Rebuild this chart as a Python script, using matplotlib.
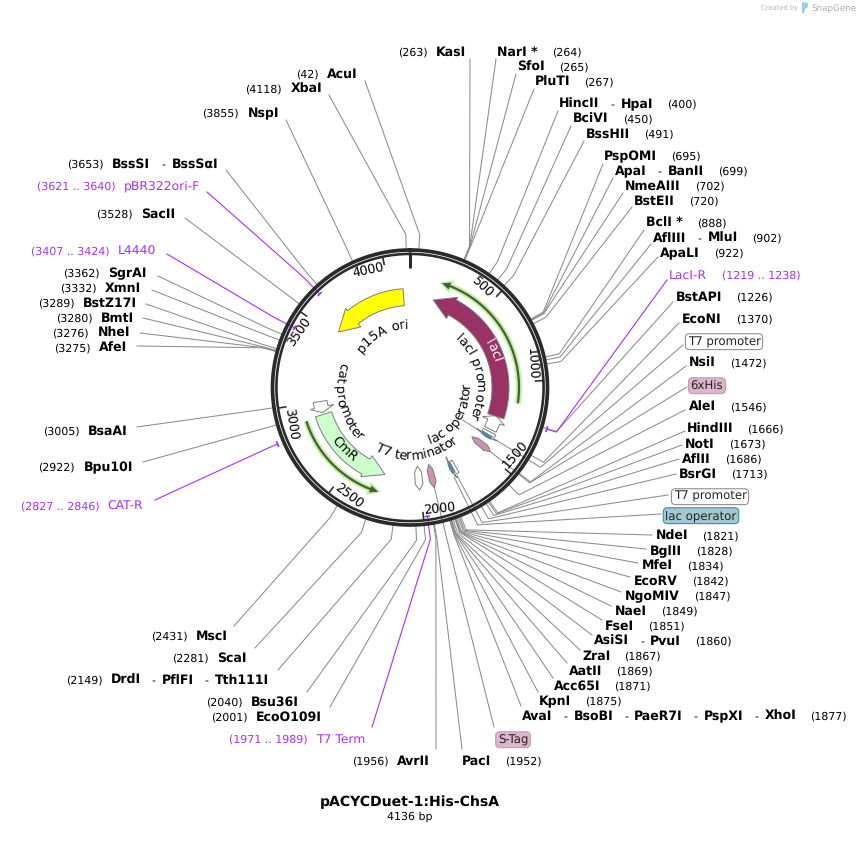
import matplotlib
matplotlib.use("Agg")
import matplotlib.pyplot as plt
import numpy as np
from matplotlib.font_manager import FontProperties
from matplotlib.patches import Polygon
from matplotlib.textpath import text_to_path

plt.rcParams["text.hinting"] = "no_hinting"

PLASMID_NAME = "pACYCDuet-1:His-ChsA"
PLASMID_LEN = 4136
TICK_BP = [500, 1000, 1500, 2000, 2500, 3000, 3500, 4000]

# enzyme sites
site_names = [
  "KasI", "NarI *", "SfoI", "PluTI", "HincII - HpaI", "BciVI", "BssHII",
  "PspOMI", "ApaI - BanII", "NmeAIII", "BstEII", "BclI *", "AflIII - MluI", "ApaLI",
  "BstAPI", "EcoNI", "NsiI", "AleI", "HindIII", "NotI", "AflII", "BsrGI",
  "NdeI", "BglII", "MfeI", "EcoRV", "NgoMIV", "NaeI", "FseI", "AsiSI - PvuI",
  "ZraI", "AatII", "Acc65I", "KpnI", "AvaI - BsoBI - PaeR7I - PspXI - XhoI",
  "PacI", "AvrII", "EcoO109I", "Bsu36I", "DrdI - PflFI - Tth111I", "ScaI", "MscI",
  "Bpu10I", "BsaAI", "AfeI", "NheI", "BmtI", "BstZ17I", "XmnI", "SgrAI",
  "SacII", "BssSI - BssSαI", "NspI", "XbaI", "AcuI",
]
site_bp = [
  263, 264, 265, 267, 400, 450, 491,
  695, 699, 702, 720, 888, 902, 922,
  1226, 1370, 1472, 1546, 1666, 1673, 1686, 1713,
  1821, 1828, 1834, 1842, 1847, 1849, 1851, 1860,
  1867, 1869, 1871, 1875, 1877,
  1952, 1956, 2001, 2040, 2149, 2281, 2431,
  2922, 3005, 3275, 3276, 3280, 3289, 3332, 3362,
  3528, 3653, 3855, 4118, 42,
]
# label layout in pixels: text x (name start on the right side, name end on the left side), centre y, leader end
site_side = ["L"] + ["R"] * 35 + ["L"] * 19
site_x = [
  466, 497, 517, 535, 559, 573, 586,
  604, 615, 625, 634, 646, 653, 660,
  676, 682, 689, 689, 687, 685, 682, 679,
  656, 650, 642, 634, 625, 615, 605, 594,
  582, 569, 554, 539, 522,
  462, 430, 322, 299, 269, 247, 228,
  133, 128, 127, 130, 134, 137, 141, 147,
  175, 218, 279, 322, 358,
]
site_y = [
  52, 52, 67, 82, 104, 119, 134,
  156, 171, 186, 201, 223, 238, 253,
  297, 319, 363, 407, 429, 444, 459, 474,
  536, 551, 566, 581, 596, 611, 626, 641,
  656, 671, 686, 701, 716,
  761, 761, 717, 702, 680, 658, 636,
  467, 431, 348, 333, 318, 303, 288, 273,
  214, 164, 113, 89, 74,
]
site_end_x = [
  470, 496, 516, 534, 558, 571, 584,
  603, 613, 623, 632, 644, 651, 658,
  673, 679, 686, 685, 685, 682, 679, 676,
  652, 646, 638, 630, 621, 611, 602, 592,
  580, 567, 553, 538, 521,
  462, 436, 330, 307, 278, 255, 234,
  143, 137, 137, 140, 143, 146, 152, 158,
  185, 226, 286, 329, 365,
]
site_end_y = [
  59, 59, 74, 89, 111, 126, 141,
  164, 178, 193, 207, 230, 244, 257,
  302, 323, 366, 410, 431, 445, 459, 474,
  535, 549, 563, 577, 592, 606, 620, 635,
  650, 663, 678, 692, 706,
  749, 749, 707, 692, 670, 648, 626,
  462, 427, 346, 333, 318, 304, 290, 276,
  218, 170, 120, 95, 81,
]

# primers
primer_names = ["LacI-R", "T7 Term", "CAT-R", "L4440", "pBR322ori-F"]
primer_start = [1219, 1971, 2827, 3407, 3621]
primer_stop = [1238, 1989, 2846, 3424, 3640]
primer_side = ["R", "L", "L", "L", "L"]
primer_x = [669, 365, 143, 156, 200]
primer_y = [275, 739, 506, 251, 186]
primer_end_x = [667, 372, 155, 167, 207]
primer_end_y = [280, 727, 500, 254, 192]
primer_radius = [143, 130, 144, 130, 130]

# boxed feature labels
box_names = ["T7 promoter", "6xHis", "T7 promoter", "lac operator", "S-Tag"]
box_bp = [1395, 1477, 1745, 1767, 1911]
box_x = [724, 707, 710, 701, 513]
box_y = [341, 385, 496, 515, 739]
box_end_x = [683, 687, 668, 661, 494]
box_end_y = [345, 387, 495, 514, 727]
box_face = ["white", "#dcb6ca", "white", "#a3c8d2", "#dcb6ca"]
box_edge = ["#909090", "#c79ab3", "#909090", "#3a8ea3", "#c79ab3"]

CX, CY = 410, 387.5
PX = 0.72
GREY = "#8c8c8c"
PURPLE = "#a92ffa"
DARK = "#2a2a2a"
RING_TOP = 20
BOLD_PX = 12.5


def bp2deg(bp):
  return np.asarray(bp, dtype=float) / PLASMID_LEN * 360.0


def pol(deg, r):
  a = np.radians(deg)
  return CX + r * np.sin(a), CY - r * np.cos(a)


def text_w(s, weight, px):
  fp = FontProperties(family="DejaVu Sans", weight=weight, size=px * PX)
  w, _, _ = text_to_path.get_text_width_height_descent(s, fp, False)
  return w / PX


def put(ax, x, y, s, weight="normal", px=11, color="black", ha="left"):
  ax.text(x, y + 4, s, fontsize=px * PX, fontweight=weight, color=color, ha=ha, va="baseline")


def name_width(parts):
  total = 0
  for i, part in enumerate(parts):
    total += text_w(part, "bold", BOLD_PX)
    if i < len(parts) - 1:
      total += 21
  return total


def draw_site_label(ax, name, num, x, y, side):
  parts = name.split(" - ")
  nw = name_width(parts)
  start = x if side == "R" else x - nw
  cur = start
  for i, part in enumerate(parts):
    put(ax, cur, y, part, weight="bold", px=BOLD_PX)
    cur += text_w(part, "bold", BOLD_PX)
    if i < len(parts) - 1:
      put(ax, cur + 11, y, "-", px=11)
      cur += 21
  if side == "R":
    put(ax, start + nw + 14, y, "(%d)" % num)
  else:
    put(ax, start - 8.5, y, "(%d)" % num, ha="right")


def leader(ax, deg, r0, end_x, end_y, color=GREY, lw=0.75, r_elbow=153):
  ex, ey = pol(deg, r_elbow)
  sx, sy = pol(deg, r0)
  ax.plot([sx, ex, end_x], [sy, ey, end_y], color=color, lw=lw, zorder=3, solid_joinstyle="round")


def arrow(ax, bp_tail, bp_tip, face, head_deg=13, r_in=82, r_out=99, head_in=78, head_out=102, zorder=6):
  a0, a1 = bp2deg(bp_tail), bp2deg(bp_tip)
  sign = 1 if a1 > a0 else -1
  base = a1 - sign * head_deg
  arc = np.linspace(a0, base, 80)
  xo, yo = pol(arc, r_out)
  xi, yi = pol(arc[::-1], r_in)
  hox, hoy = pol(base, head_out)
  hix, hiy = pol(base, head_in)
  tx, ty = pol(a1, (r_in + r_out) / 2)
  xs = np.r_[xo, hox, tx, hix, xi]
  ys = np.r_[yo, hoy, ty, hiy, yi]
  ax.add_patch(Polygon(np.c_[xs, ys], closed=True, facecolor=face, edgecolor="#7d7d7d", lw=0.7, zorder=zorder))


def hexagon(ax, bp0, bp1, face):
  a0, a1 = bp2deg(bp0), bp2deg(bp1)
  mid = (a0 + a1) / 2
  angs = [mid, a1, a1, mid, a0, a0]
  rads = [79, 85, 97, 103, 97, 85]
  xs, ys = pol(np.array(angs), np.array(rads))
  ax.add_patch(Polygon(np.c_[xs, ys], closed=True, facecolor=face, edgecolor="#7d7d7d", lw=0.7, zorder=6))


def orf(ax, bp_from, bp_to):
  a0, a1 = bp2deg(bp_from), bp2deg(bp_to)
  sign = 1 if a1 > a0 else -1
  arc = np.linspace(a0, a1 - sign * 2.5, 80)
  x, y = pol(arc, 109)
  for col, lw, hw, extra in [("#bdf29a", 6 * PX, 7, 1.0), ("#4b5a40", 2.2 * PX, 3.6, 0.0)]:
    ax.plot(x, y, color=col, lw=lw, solid_capstyle="butt", zorder=5 if extra else 6)
    b = a1 - sign * (4.5 + extra)
    hx0, hy0 = pol(b, 109 + hw)
    hx1, hy1 = pol(b, 109 - hw)
    tx, ty = pol(a1 + sign * extra, 109)
    ax.add_patch(Polygon([[hx0, hy0], [tx, ty], [hx1, hy1]], closed=True, facecolor=col, edgecolor="none", zorder=5 if extra else 6))


def curved(ax, s, center_deg, r, flipped=False, px=13, color="black", weight="normal"):
  total = text_w(s, weight, px)
  for i, ch in enumerate(s):
    if ch == " ":
      continue
    left = text_w(s[:i + 1], weight, px) - text_w(ch, weight, px)
    off = left + text_w(ch, weight, px) / 2 - total / 2
    d = np.degrees(off / r)
    deg = center_deg - d if flipped else center_deg + d
    rot = 180 - deg if flipped else -deg
    x, y = pol(deg, r)
    ax.text(x, y, ch, fontsize=px * PX, color=color, fontweight=weight, rotation=rot,
            rotation_mode="anchor", ha="center", va="baseline", zorder=9)


fig = plt.figure(figsize=(8.59, 8.59), dpi=100)
ax = fig.add_axes([0, 0, 1, 1])
ax.set_xlim(0, 859)
ax.set_ylim(859, 0)
ax.axis("off")

# leaders first so the ring sits over them
for bp, ex, ey in zip(site_bp, site_end_x, site_end_y):
  leader(ax, bp2deg(bp), 139, ex, ey)
for bp, ex, ey in zip(box_bp, box_end_x, box_end_y):
  leader(ax, bp2deg(bp), 100, ex, ey)
x0, y0 = pol(bp2deg(1399), 62)
x1, y1 = pol(bp2deg(1399), 84)
ax.plot([x0, x1], [y0, y1], color=GREY, lw=0.75, zorder=3)

# backbone
theta = np.linspace(0, 360, 721)
ax.plot(*pol(theta, 137.5), color=DARK, lw=3.7 * PX, zorder=RING_TOP)
ax.plot(*pol(theta, 133.6), color=DARK, lw=2.6 * PX, zorder=RING_TOP)

# ticks and their labels
x0, y0 = pol(0, 134)
x1, y1 = pol(0, 120)
ax.plot([x0, x1], [y0, y1], color=DARK, lw=3.0 * PX, solid_capstyle="butt", zorder=RING_TOP)
for bp in TICK_BP:
  deg = float(bp2deg(bp))
  x0, y0 = pol(deg, 134)
  x1, y1 = pol(deg, 125)
  ax.plot([x0, x1], [y0, y1], color=DARK, lw=1.6 * PX, solid_capstyle="butt", zorder=RING_TOP)
  tx, ty = pol(deg - 8, 124.5)
  rot = -deg if deg < 90 else (180 - deg if deg < 270 else 360 - deg)
  ax.text(tx, ty, str(bp), fontsize=12.5 * PX, rotation=rot, rotation_mode="anchor", ha="center", va="center", zorder=9)

# features
arrow(ax, 1350, 1241, "white", head_deg=4, r_in=84, r_out=97)
arrow(ax, 1247, 171, "#993366")
arrow(ax, 4090, 3537, "#ffff00")
arrow(ax, 3000, 2918, "white", head_deg=3.5, r_in=84, r_out=98)
arrow(ax, 2904, 2252, "#ccffcc")
arrow(ax, 1367, 1411, "white", head_deg=1.2, r_in=84, r_out=98)
arrow(ax, 1723, 1767, "white", head_deg=1.2, r_in=84, r_out=98)
arrow(ax, 1389, 1413, "#3b8fa6", head_deg=0.4, r_in=85, r_out=96, head_in=85, head_out=96)
arrow(ax, 1745, 1769, "#3b8fa6", head_deg=0.4, r_in=85, r_out=96, head_in=85, head_out=96)
hexagon(ax, 1455, 1499, "#c994b3")
hexagon(ax, 1889, 1933, "#c994b3")
hexagon(ax, 1980, 2032, "white")
orf(ax, 1130, 195)
orf(ax, 2895, 2262)

# inner labels
curved(ax, "p15A ori", 332, 59)
curved(ax, "lacI promoter", 80, 66)
curved(ax, "lac operator", 123, 60, flipped=True)
curved(ax, "T7 terminator", 174, 72, flipped=True)
curved(ax, "cat promoter", 257, 74, flipped=True)
curved(ax, "lacI", 66, 88, color="white")
curved(ax, "CmR", 227, 94, flipped=True)

# primers
for name, a, b, side, x, y, ex, ey, rad in zip(primer_names, primer_start, primer_stop, primer_side,
                                               primer_x, primer_y, primer_end_x, primer_end_y, primer_radius):
  mid = float(bp2deg((a + b) / 2))
  leader(ax, mid, rad, ex, ey, color=PURPLE, lw=0.8)
  arc = np.linspace(float(bp2deg(a)) - 0.4, float(bp2deg(b)) + 0.4, 12)
  ax.plot(*pol(arc, rad), color=PURPLE, lw=1.7 * PX, solid_capstyle="butt", zorder=8)
  num = "(%d .. %d)" % (a, b)
  if side == "R":
    put(ax, x, y, name, px=12.4, color=PURPLE)
    put(ax, x + text_w(name, "normal", 12.4) + 14.5, y, num, color=PURPLE)
  else:
    put(ax, x, y, name, px=12.4, color=PURPLE, ha="right")
    put(ax, x - text_w(name, "normal", 12.4) - 8, y, num, color=PURPLE, ha="right")

# enzyme labels
for name, bp, side, x, y in zip(site_names, site_bp, site_side, site_x, site_y):
  draw_site_label(ax, name, bp, x, y, side)

# feature boxes
for name, x, y, fc, ec in zip(box_names, box_x, box_y, box_face, box_edge):
  ax.text(x, y + 4, name, fontsize=11.8 * PX, ha="center", va="baseline", color="#222222", zorder=10,
          bbox=dict(boxstyle="round,pad=0.18,rounding_size=0.35", facecolor=fc, edgecolor=ec, lw=0.8))

# title
ax.text(410, 806, PLASMID_NAME, fontsize=14 * PX, fontweight="bold", ha="center", va="baseline")
ax.text(410, 820, "%d bp" % PLASMID_LEN, fontsize=11 * PX, ha="center", va="baseline")

# watermark
ax.text(761, 10, "Created by", fontsize=6.8 * PX, color="#b5b5b5", ha="left", va="baseline")
ax.add_patch(Polygon([[802, 2], [808, 3], [808, 7], [805, 9], [804, 13], [802, 13]], closed=True,
                     facecolor="#8fd0ef", edgecolor="none"))
ax.text(811, 11, "SnapGene", fontsize=8.8 * PX, color="#adadad", ha="left", va="baseline")

fig.savefig("out.png", dpi=100)
